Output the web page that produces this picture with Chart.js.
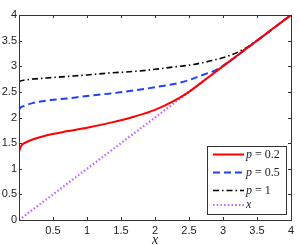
<!DOCTYPE html>
<html><head><meta charset="utf-8">
<script src="https://cdn.jsdelivr.net/npm/chart.js@4"></script>
<style>html,body{margin:0;padding:0;background:#fff}</style>
</head><body>
<canvas id="c" width="299" height="245" style="display:block;width:299px;height:245px"></canvas>
<script>
// ---- data ----
const xValues = [0, 0.02, 0.08, 0.2, 0.4, 0.7, 1.0, 1.35, 1.7, 2.0, 2.3, 2.5, 2.7, 2.9, 3.1, 3.3, 3.5, 4.0];
const seriesP02 = [1.33, 1.42, 1.50, 1.57, 1.65, 1.73, 1.80, 1.90, 2.02, 2.15, 2.34, 2.50, 2.70, 2.90, 3.10, 3.30, 3.50, 4.00];
const seriesP05 = [2.15, 2.19, 2.23, 2.28, 2.33, 2.37, 2.42, 2.47, 2.53, 2.59, 2.66, 2.73, 2.83, 2.93, 3.10, 3.30, 3.50, 4.00];
const seriesP1  = [2.69, 2.71, 2.73, 2.75, 2.77, 2.80, 2.83, 2.87, 2.90, 2.94, 2.99, 3.02, 3.07, 3.13, 3.21, 3.33, 3.50, 4.00];
const diagX = [0, 4];
const diagY = [0, 4];
const seriesLabels = ['p = 0.2', 'p = 0.5', 'p = 1', 'x'];
const xTickValues = [0, 0.5, 1, 1.5, 2, 2.5, 3, 3.5, 4];
const xTickLabels = ['', '0.5', '1', '1.5', '2', '2.5', '3', '3.5', '4'];
const yTickValues = [0, 0.5, 1, 1.5, 2, 2.5, 3, 3.5, 4];
const yTickLabels = ['0', '0.5', '1', '1.5', '2', '2.5', '3', '3.5', '4'];
const xAxisTitle = 'x';

const pts = (xs, ys) => xs.map((x, i) => ({x: x, y: ys[i]}));

const boxPlugin = {
  id: 'boxTicks',
  afterDraw(chart) {
    const {ctx, chartArea: a, scales} = chart;
    ctx.save();
    ctx.strokeStyle = '#333';
    ctx.lineWidth = 1;
    ctx.beginPath();
    const L = 3;
    xTickValues.forEach(v => {
      const px = Math.round(scales.x.getPixelForValue(v)) + 0.5;
      ctx.moveTo(px, a.bottom); ctx.lineTo(px, a.bottom - L);
      ctx.moveTo(px, a.top); ctx.lineTo(px, a.top + L);
    });
    yTickValues.forEach(v => {
      const py = Math.round(scales.y.getPixelForValue(v)) + 0.5;
      ctx.moveTo(a.left, py); ctx.lineTo(a.left + L, py);
      ctx.moveTo(a.right, py); ctx.lineTo(a.right - L, py);
    });
    ctx.stroke();
    ctx.strokeRect(Math.round(a.left) + 0.5, Math.round(a.top) + 0.5, Math.round(a.right - a.left), Math.round(a.bottom - a.top));

    // legend
    const bx = 207.5, by = 146.5, bw = 79, bh = 68;
    ctx.fillStyle = '#fff';
    ctx.fillRect(bx, by, bw, bh);
    ctx.strokeStyle = '#333';
    ctx.strokeRect(bx, by, bw, bh);
    const rowY = [154.5, 172.5, 190.5, 205];
    chart.data.datasets.forEach((ds, i) => {
      const y = rowY[i];
      ctx.save();
      ctx.strokeStyle = ds.borderColor;
      ctx.lineWidth = ds.borderWidth;
      ctx.setLineDash(ds.borderDash || []);
      ctx.beginPath();
      ctx.moveTo(213, y); ctx.lineTo(244, y);
      ctx.stroke();
      ctx.restore();
      ctx.fillStyle = '#222';
      ctx.textBaseline = 'middle';
      const lab = ds.label;
      const first = lab.charAt(0), rest = lab.slice(1);
      ctx.font = 'italic 12px "Liberation Serif"';
      ctx.fillText(first, 246, y);
      let w = ctx.measureText(first).width;
      ctx.font = '12px "Liberation Serif"';
      ctx.fillText(rest, 246 + w, y);
    });
    ctx.restore();
  }
};

new Chart(document.getElementById('c'), {
  type: 'line',
  data: {
    datasets: [
      {label: seriesLabels[0], data: pts(xValues, seriesP02), borderColor: '#ff0000', borderWidth: 2, borderDash: []},
      {label: seriesLabels[1], data: pts(xValues, seriesP05), borderColor: '#2040ff', borderWidth: 2, borderDash: [7, 4]},
      {label: seriesLabels[2], data: pts(xValues, seriesP1), borderColor: '#000000', borderWidth: 1.6, borderDash: [6, 3, 1.5, 3]},
      {label: seriesLabels[3], data: pts(diagX, diagY), borderColor: '#c060ff', borderWidth: 2.2, borderDash: [1.5, 2.2]}
    ]
  },
  options: {
    responsive: false,
    animation: false,
    devicePixelRatio: 1,
    layout: {padding: {left: 0, right: 8, top: 15, bottom: 0}},
    elements: {point: {radius: 0}, line: {cubicInterpolationMode: 'monotone', fill: false}},
    plugins: {legend: {display: false}, tooltip: {enabled: false}},
    scales: {
      x: {
        type: 'linear', min: 0, max: 4,
        afterBuildTicks: s => { s.ticks = xTickValues.map(v => ({value: v})); },
        ticks: {
          callback: (v, i) => xTickLabels[i],
          autoSkip: false, maxRotation: 0, padding: 4, color: '#222',
          font: {family: '"Liberation Sans", Arial', size: 11}
        },
        grid: {display: false, drawTicks: false},
        border: {display: false},
        title: {display: true, text: xAxisTitle, color: '#222', padding: {top: 0, bottom: -2},
          font: {family: '"Liberation Serif"', style: 'italic', size: 14, lineHeight: 1}},
        afterFit: s => { s.height = 25; }
      },
      y: {
        type: 'linear', min: 0, max: 4,
        afterBuildTicks: s => { s.ticks = yTickValues.map(v => ({value: v})); },
        ticks: {
          callback: (v, i) => yTickLabels[i],
          autoSkip: false, padding: 2, color: '#222',
          font: {family: '"Liberation Sans", Arial', size: 11}
        },
        grid: {display: false, drawTicks: false},
        border: {display: false},
        afterFit: s => { s.width = 19; }
      }
    }
  },
  plugins: [boxPlugin]
});
</script>
</body></html>
